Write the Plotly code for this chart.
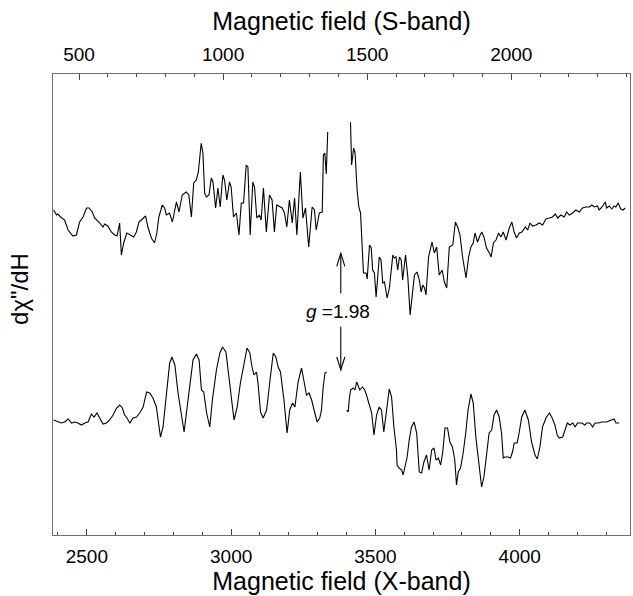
import plotly.graph_objects as go

# ---- Upper spectrum: S-band (field in G), arbitrary signal units ----
S_BAND_FIELD = [
    412, 422, 426, 436, 450, 462, 479, 491, 502, 514,
    526, 535, 546, 554, 572, 583, 589, 600, 612, 624,
    632, 641, 647, 655, 666, 678, 690, 699, 708, 716,
    731, 739, 751, 762, 770, 777, 789, 797, 803, 814,
    824, 838, 847, 858, 872, 881, 890, 898, 907, 914,
    924, 930, 936, 942, 951, 959, 965, 974, 982, 990,
    999, 1005, 1013, 1022, 1028, 1036, 1046, 1055, 1063, 1071,
    1080, 1086, 1094, 1103, 1109, 1117, 1126, 1132, 1140, 1150,
    1161, 1170, 1178, 1186, 1196, 1205, 1213, 1221, 1230, 1240,
    1248, 1256, 1268, 1277, 1286, 1297, 1309, 1317, 1323, 1334,
    1344, 1348, 1353, 1358, 1363,
    None,
    1442, 1446, 1453, 1458, 1465, 1471, 1477, 1482, 1487, 1496,
    1500, 1508, 1514, 1519, 1525, 1531, 1542, 1548, 1554, 1560,
    1569, 1577, 1589, 1594, 1600, 1606, 1612, 1618, 1623, 1633,
    1641, 1649, 1658, 1664, 1673, 1681, 1687, 1693, 1699, 1704,
    1713, 1725, 1733, 1741, 1750, 1760, 1768, 1776, 1785, 1797,
    1806, 1814, 1822, 1831, 1843, 1852, 1860, 1868, 1874, 1883,
    1892, 1898, 1906, 1914, 1924, 1930, 1938, 1947, 1956, 1964,
    1972, 1982, 1993, 2002, 2010, 2018, 2028, 2037, 2049, 2057,
    2065, 2074, 2086, 2097, 2109, 2120, 2132, 2143, 2153, 2161,
    2172, 2184, 2192, 2201, 2213, 2224, 2236, 2247, 2259, 2271,
    2280, 2288, 2299, 2305, 2315, 2326, 2331, 2340, 2349, 2357,
    2363, 2371, 2380, 2388, 2395,
]
S_BAND_SIGNAL = [
    325, 320, 321, 318, 315, 305, 299, 300, 313, 318,
    327, 327, 323, 317, 312, 308, 311, 309, 303, 300,
    299, 312, 280, 292, 302, 300, 298, 303, 313, 315,
    319, 308, 297, 292, 302, 318, 330, 327, 320, 322,
    313, 333, 323, 340, 343, 340, 318, 352, 355, 363,
    392, 382, 342, 338, 340, 357, 353, 327, 347, 328,
    360, 355, 335, 353, 348, 318, 322, 300, 332, 332,
    370, 368, 300, 353, 348, 317, 320, 315, 347, 303,
    340, 335, 303, 330, 328, 327, 322, 308, 335, 312,
    337, 300, 363, 317, 327, 288, 328, 325, 305, 322,
    323, 380, 382, 361, 403,
    None,
    413, 370, 387, 382, 345, 328, 322, 295, 262, 262,
    256, 290, 287, 265, 262, 238, 278, 275, 252, 253,
    237, 247, 280, 277, 278, 265, 278, 275, 255, 280,
    258, 220, 245, 260, 263, 255, 243, 250, 247, 240,
    278, 293, 282, 288, 260, 265, 253, 247, 288, 290,
    313, 308, 300, 278, 257, 278, 288, 292, 302, 293,
    300, 303, 297, 287, 282, 278, 292, 295, 302, 298,
    303, 295, 307, 313, 303, 297, 302, 303, 308, 305,
    312, 309, 310, 312, 310, 316, 317, 318, 321, 317,
    320, 318, 323, 320, 322, 325, 323, 327, 328, 328,
    330, 328, 329, 325, 328, 333, 327, 329, 326, 329,
    328, 332, 326, 325, 327,
]

# ---- Lower spectrum: X-band (field in G), arbitrary signal units ----
X_BAND_FIELD = [
    2385, 2400, 2412, 2423, 2435, 2447, 2458, 2469, 2481, 2493,
    2504, 2516, 2525, 2535, 2545, 2556, 2568, 2579, 2591, 2603,
    2614, 2623, 2631, 2639, 2649, 2660, 2672, 2683, 2695, 2707,
    2718, 2729, 2741, 2749, 2755, 2764, 2776, 2787, 2795, 2805,
    2816, 2828, 2837, 2845, 2857, 2868, 2880, 2889, 2897, 2905,
    2915, 2926, 2935, 2949, 2961, 2970, 2982, 2989, 3001, 3010,
    3021, 3032, 3044, 3055, 3065, 3071, 3079, 3088, 3093, 3102,
    3111, 3123, 3134, 3146, 3155, 3163, 3171, 3183, 3194, 3203,
    3213, 3221, 3232, 3244, 3253, 3261, 3270, 3279, 3290, 3298,
    3307, 3313, 3319, 3325, 3331,
    None,
    3400, 3406, 3409, 3414, 3423, 3429, 3435, 3440, 3446, 3455,
    3463, 3469, 3478, 3487, 3495, 3504, 3513, 3521, 3529, 3539,
    3548, 3556, 3564, 3573, 3575, 3582, 3591, 3596, 3602, 3610,
    3617, 3625, 3634, 3643, 3652, 3660, 3668, 3677, 3686, 3695,
    3703, 3710, 3718, 3726, 3733, 3741, 3750, 3758, 3767, 3775,
    3781, 3787, 3795, 3804, 3813, 3821, 3831, 3839, 3848, 3860,
    3868, 3876, 3885, 3894, 3903, 3911, 3920, 3929, 3937, 3943,
    3949, 3960, 3968, 3975, 3981, 3991, 3998, 4007, 4018, 4030,
    4041, 4053, 4061, 4070, 4079, 4091, 4103, 4111, 4122, 4130,
    4137, 4149, 4157, 4165, 4174, 4184, 4192, 4200, 4215, 4226,
    4232, 4243, 4253, 4261, 4272, 4284, 4301, 4319, 4327, 4334, 4345,
]
X_BAND_SIGNAL = [
    115, 113, 112, 113, 116, 112, 113, 112, 110, 112,
    113, 121, 118, 122, 117, 111, 112, 115, 120, 127,
    130, 127, 120, 117, 112, 117, 118, 122, 128, 143,
    142, 137, 128, 107, 98, 108, 145, 172, 178, 170,
    142, 118, 103, 122, 152, 175, 181, 175, 145, 143,
    122, 108, 135, 165, 182, 188, 183, 165, 135, 115,
    128, 152, 170, 187, 182, 170, 160, 163, 152, 123,
    117, 125, 153, 182, 178, 168, 163, 135, 102, 125,
    132, 128, 153, 167, 153, 140, 142, 135, 122, 113,
    117, 125, 148, 162, 163,
    None,
    125, 123, 135, 145, 147, 145, 153, 150, 145, 148,
    145, 140, 132, 122, 100, 120, 128, 125, 103, 128,
    146, 138, 108, 85, 70, 67, 65, 60, 68, 78,
    95, 108, 113, 102, 63, 62, 73, 80, 65, 85,
    87, 75, 77, 70, 82, 107, 107, 93, 88, 75,
    50, 63, 67, 82, 102, 125, 141, 132, 98, 65,
    48, 58, 82, 102, 105, 120, 125, 118, 102, 77,
    78, 78, 77, 83, 92, 92, 102, 118, 125, 115,
    93, 80, 76, 88, 108, 117, 122, 118, 110, 100,
    97, 98, 105, 112, 110, 112, 108, 112, 112, 110,
    112, 112, 108, 112, 112, 113, 113, 115, 116, 112, 112,
]

# axis settings
X_RANGE = [2382.7, 4382.2]
S_RANGE = [409.7, 2412.0]
Y_RANGE = [0, 461]

# g = 1.98 marker (X-band field) and arrow ends (signal units)
G_FIELD = 3380
G_LABEL = "<i>g</i> =1.98"
G_LABEL_POS = (3370, 224)
UP_ARROW = (241.7, 281.7)     # tail, tip
DOWN_ARROW = (208.3, 165.0)   # tail, tip
HEAD_HALF_W = 14
HEAD_LEN = 13

FONT = "Liberation Sans, Arial, Helvetica, sans-serif"
AX_COLOR = "#6f6f6f"
TICK_COLOR = "#444444"

fig = go.Figure()
fig.add_trace(go.Scatter(x=X_BAND_FIELD, y=X_BAND_SIGNAL, mode="lines",
                         line=dict(color="black", width=1.1),
                         connectgaps=False, xaxis="x", yaxis="y",
                         showlegend=False, hoverinfo="skip"))
fig.add_trace(go.Scatter(x=S_BAND_FIELD, y=S_BAND_SIGNAL, mode="lines",
                         line=dict(color="black", width=1.1),
                         connectgaps=False, xaxis="x2", yaxis="y",
                         showlegend=False, hoverinfo="skip"))

shapes = []
for tail, tip in (UP_ARROW, DOWN_ARROW):
    d = 1 if tip > tail else -1
    shapes.append(dict(type="line", xref="x", yref="y", x0=G_FIELD, x1=G_FIELD,
                       y0=tail, y1=tip, line=dict(color="black", width=1.1)))
    shapes.append(dict(type="path", xref="x", yref="y",
                       path=f"M {G_FIELD - HEAD_HALF_W} {tip - d * HEAD_LEN} "
                            f"L {G_FIELD} {tip} L {G_FIELD + HEAD_HALF_W} {tip - d * HEAD_LEN}",
                       line=dict(color="black", width=1.1)))

axis_common = dict(
    showline=True, linecolor=AX_COLOR, linewidth=1.3,
    ticks="inside", ticklen=6, tickwidth=1.2, tickcolor=TICK_COLOR,
    showgrid=False, zeroline=False,
    tickfont=dict(family=FONT, size=19, color="black"),
)
minor_common = dict(dtick=100, ticks="inside", ticklen=3, tickwidth=1.2,
                    tickcolor=TICK_COLOR, showgrid=False)

fig.update_layout(
    width=633, height=596,
    margin=dict(l=53, r=3, t=74, b=61),
    paper_bgcolor="white", plot_bgcolor="white",
    font=dict(family=FONT, color="black"),
    xaxis=dict(range=X_RANGE, tick0=2500, dtick=500,
               minor=dict(tick0=2400, **minor_common),
               title=dict(text="Magnetic field (X-band)", font=dict(size=25), standoff=6),
               ticklabelstandoff=4,
               **axis_common),
    xaxis2=dict(range=S_RANGE, overlaying="x", side="top", anchor="y",
                tick0=500, dtick=500,
                minor=dict(tick0=500, **minor_common),
                title=dict(text="Magnetic field (S-band)", font=dict(size=25), standoff=6),
                ticklabelstandoff=4,
                **axis_common),
    yaxis=dict(range=Y_RANGE, showline=True, linecolor=AX_COLOR, linewidth=1.3,
               mirror=True, ticks="", showticklabels=False, showgrid=False,
               zeroline=False),
    shapes=shapes,
    annotations=[
        dict(x=G_LABEL_POS[0], y=G_LABEL_POS[1], xref="x", yref="y", text=G_LABEL,
             showarrow=False, font=dict(family=FONT, size=19, color="black")),
        dict(x=-0.057, y=0.534, xref="paper", yref="paper", text='dχ"/dH',
             xanchor="center", yanchor="middle",
             textangle=-90, showarrow=False,
             font=dict(family=FONT, size=24, color="black")),
    ],
)

fig.write_html("out.html")
